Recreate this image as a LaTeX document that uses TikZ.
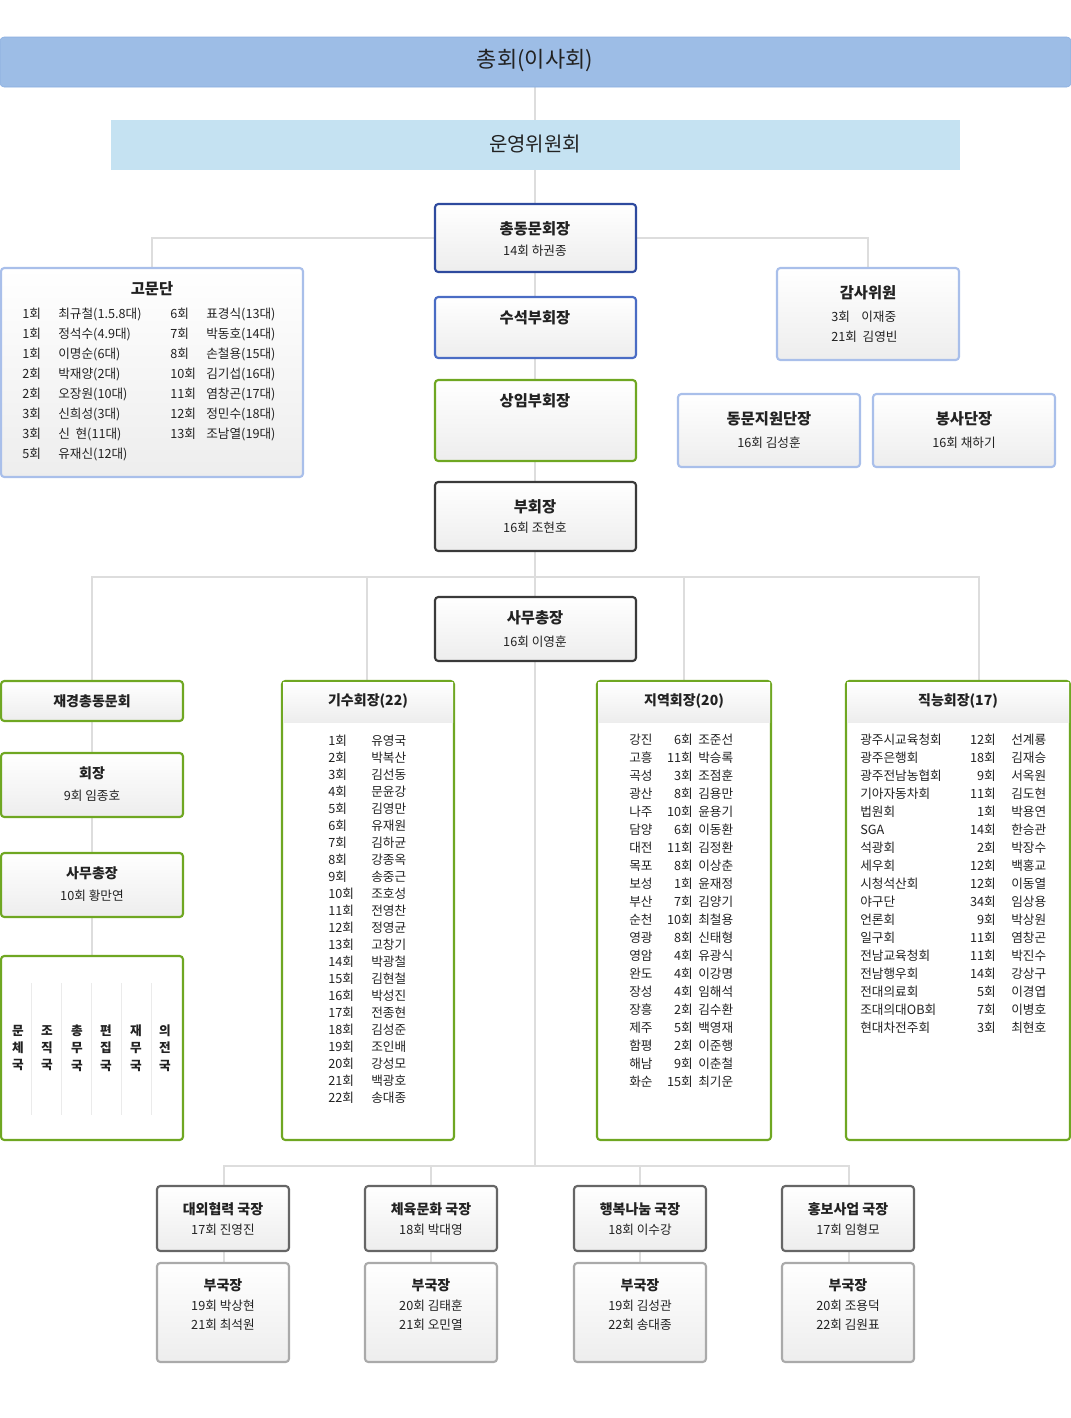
\documentclass[tikz,border=0pt]{standalone}
\usepackage{fontspec}
\setmainfont{Noto Sans CJK KR}
\usetikzlibrary{fit}
\definecolor{lnc}{HTML}{DDDDDD}
\definecolor{grn}{HTML}{6FA722}
\definecolor{dk}{HTML}{3A3A3A}
\definecolor{nb}{HTML}{2E4A9E}
\definecolor{mb}{HTML}{4A6CC4}
\definecolor{lb}{HTML}{A9BFEA}
\definecolor{lg}{HTML}{AAAAAA}
\definecolor{topf}{HTML}{9DBDE6}
\definecolor{topd}{HTML}{8AAEE0}
\definecolor{secf}{HTML}{C5E2F2}
\definecolor{txt}{HTML}{222222}
\tikzset{
 x=0.75pt,y=-0.75pt,
 bx/.style={inner sep=0pt,rounded corners=2.5pt,line width=1.6pt,top color=white,bottom color=black!7},
 bdk/.style={bx,draw=dk},
 bnb/.style={bx,draw=nb},
 bmb/.style={bx,draw=mb},
 blb/.style={bx,draw=lb},
 bgr/.style={bx,draw=grn},
 blg/.style={bx,draw=lg},
 ttl/.style={font=\fontsize{11.5}{13}\selectfont\bfseries,text=txt},
 sub/.style={font=\fontsize{9.5}{11}\selectfont,text=txt},
 li/.style={font=\fontsize{9.5}{11}\selectfont,text=txt,anchor=west,inner sep=0pt},
 ri/.style={font=\fontsize{9.5}{11}\selectfont,text=txt,anchor=east,inner sep=0pt},
 ln/.style={draw=lnc,line width=0.8pt},
}
\begin{document}
\begin{tikzpicture}
\useasboundingbox (0,0) rectangle (1071,1418);
% connectors
\draw[ln] (535,87) -- (535,1166);
\draw[ln] (152,268) -- (152,238) -- (868,238) -- (868,268);
\draw[ln] (92,681) -- (92,577) -- (979,577) -- (979,681);
\draw[ln] (367,577) -- (367,681);
\draw[ln] (684,577) -- (684,681);
\draw[ln] (92,721) -- (92,956);
\draw[ln] (224,1186) -- (224,1166) -- (849,1166) -- (849,1186);
\draw[ln] (431,1166) -- (431,1186);
\draw[ln] (640,1166) -- (640,1186);
\foreach \xx in {224,431,640,849}{\draw[ln] (\xx,1251) -- (\xx,1263);}
% top
\node[fill=topf,draw=topd,rounded corners=3pt,inner sep=0pt,fit={(0,37)(1071,87)}] (gen) {};
\node[font=\fontsize{16.5}{18}\selectfont,text=txt] (gent) at (535,61) {총회(이사회)};
\node[fill=secf,inner sep=0pt,fit={(111,120)(960,170)}] (op) {};
\node[font=\fontsize{15}{16}\selectfont,text=txt] (opt) at (535,144) {운영위원회};
% center column
\node[bnb,fit={(435,204)(636,272)}] (pres) {};
\node[ttl] (prest) at (535,229) {총동문회장};
\node[sub] (press) at (535,251) {14회 하권종};
\node[bmb,fit={(435,297)(636,358)}] (svp) {};
\node[ttl] (svpt) at (535,318) {수석부회장};
\node[bgr,fit={(435,380)(636,461)}] (evp) {};
\node[ttl] (evpt) at (535,401) {상임부회장};
\node[bdk,fit={(435,482)(636,551)}] (vp) {};
\node[ttl] (vpt) at (535,507) {부회장};
\node[sub] (vps) at (535,528) {16회 조현호};
\node[bdk,fit={(435,597)(636,661)}] (sg) {};
\node[ttl] (sgt) at (535,618) {사무총장};
\node[sub] (sgs) at (535,642) {16회 이영훈};
% advisors
\node[blb,fit={(1,268)(303,477)}] (adv) {};
\node[ttl] (advt) at (152,289) {고문단};
\foreach \i/\ca/\cb in {0/1회/최규철(1.5.8대),1/1회/정석수(4.9대),2/1회/이명순(6대),3/2회/박재양(2대),4/2회/오장원(10대),5/3회/신희성(3대),6/3회/신\ \ 현(11대),7/5회/유재신(12대)}{
 \node[li] (ga\i) at (22,314+20*\i) {\ca};
 \node[li] (gb\i) at (58,314+20*\i) {\cb};}
\foreach \i/\ca/\cb in {0/6회/표경식(13대),1/7회/박동호(14대),2/8회/손철용(15대),3/10회/김기섭(16대),4/11회/염창곤(17대),5/12회/정민수(18대),6/13회/조남열(19대)}{
 \node[li] (gc\i) at (170,314+20*\i) {\ca};
 \node[li] (gd\i) at (206,314+20*\i) {\cb};}
% audit
\node[blb,fit={(777,268)(959,360)}] (aud) {};
\node[ttl] (audt) at (868,293) {감사위원};
\node[li] (aud1) at (831,317) {3회\ \ \ \ 이재중};
\node[li] (aud2) at (831,337) {21회\ \ 김영빈};
\node[blb,fit={(678,394)(860,467)}] (sup) {};
\node[ttl] (supt) at (769,419) {동문지원단장};
\node[sub] (sups) at (769,443) {16회 김성훈};
\node[blb,fit={(873,394)(1055,467)}] (vol) {};
\node[ttl] (volt) at (964,419) {봉사단장};
\node[sub] (vols) at (964,443) {16회 채하기};
% left column
\node[bgr,fit={(1,681)(183,721)}] (jk) {};
\node[ttl,font=\fontsize{10.5}{12}\selectfont\bfseries] (jkt) at (92,701) {재경총동문회};
\node[bgr,fit={(1,753)(183,817)}] (jkp) {};
\node[ttl,font=\fontsize{10.5}{12}\selectfont\bfseries] (jkpt) at (92,773) {회장};
\node[sub] (jkps) at (92,796) {9회 임종호};
\node[bgr,fit={(1,853)(183,917)}] (jks) {};
\node[ttl,font=\fontsize{10.5}{12}\selectfont\bfseries] (jkst) at (92,873) {사무총장};
\node[sub] (jkss) at (92,896) {10회 황만연};
\node[bgr,top color=white,bottom color=white,fit={(1,956)(183,1140)}] (dep) {};
\foreach \xx in {31,61,91,121,151}{\draw[draw=black!8,line width=0.6pt] (\xx,983) -- (\xx,1115);}
\foreach \i/\ca/\cb/\cc/\xx in {1/문/체/국/18,2/조/직/국/47,3/총/무/국/77,4/편/집/국/106,5/재/무/국/136,6/의/전/국/165}{
 \node[sub,font=\fontsize{9.5}{11}\selectfont\bfseries,align=center] (dp\i) at (\xx,1048) {\ca\\[2pt]\cb\\[2pt]\cc};}
% list boxes
\foreach \nm/\xa/\xb/\ttx in {ks/282/454/기수회장(22),jy/597/771/지역회장(20),jn/846/1070/직능회장(17)}{
 \node[bgr,top color=white,bottom color=white,fit={(\xa,681)(\xb,1140)}] (\nm) {};
 \fill[top color=white,bottom color=black!7] (\xa+1,682) rectangle (\xb-1,722);
 \node[ttl,font=\fontsize{10.5}{12}\selectfont\bfseries] (\nm t) at ({(\xa+\xb)/2},701) {\ttx};}
\foreach \i/\ca in {1/유영국,2/박복산,3/김선동,4/문윤강,5/김영만,6/유재원,7/김하균,8/강종옥,9/송중근,10/조호성,11/전영찬,12/정영균,13/고창기,14/박광철,15/김현철,16/박성진,17/전종현,18/김성준,19/조인배,20/강성모,21/백광호,22/송대종}{
 \node[li] (kn\i) at (328,741+17*\i-17) {{\i}회};
 \node[li] (km\i) at (371,741+17*\i-17) {\ca};}
\foreach \i/\cr/\cn/\cp in {0/강진/6/조준선,1/고흥/11/박승록,2/곡성/3/조점훈,3/광산/8/김용만,4/나주/10/윤용기,5/담양/6/이동환,6/대전/11/김정환,7/목포/8/이상춘,8/보성/1/윤재정,9/부산/7/김양기,10/순천/10/최철용,11/영광/8/신태형,12/영암/4/유광식,13/완도/4/이강명,14/장성/4/임해석,15/장흥/2/김수환,16/제주/5/백영재,17/함평/2/이준행,18/해남/9/이춘철,19/화순/15/최기운}{
 \node[li] (jr\i) at (629,740+18*\i) {\cr};
 \node[ri] (jc\i) at (693,740+18*\i) {{\cn}회};
 \node[li] (jp\i) at (698,740+18*\i) {\cp};}
\foreach \i/\co/\cn/\cp in {0/광주시교육청회/12/선계룡,1/광주은행회/18/김재승,2/광주전남농협회/9/서옥원,3/기아자동차회/11/김도현,4/법원회/1/박용연,5/SGA/14/한승관,6/석광회/2/박장수,7/세우회/12/백홍교,8/시청석산회/12/이동열,9/야구단/34/임상용,10/언론회/9/박상원,11/일구회/11/염창곤,12/전남교육청회/11/박진수,13/전남행우회/14/강상구,14/전대의료회/5/이경엽,15/조대의대OB회/7/이병호,16/현대차전주회/3/최현호}{
 \node[li] (no\i) at (860,740+18*\i) {\co};
 \node[ri] (nc\i) at (996,740+18*\i) {{\cn}회};
 \node[li] (np\i) at (1011,740+18*\i) {\cp};}
% bottom
\foreach \k/\xa/\ct/\cs/\pa/\pb in {1/157/대외협력 국장/17회 진영진/19회 박상현/21회 최석원,2/365/체육문화 국장/18회 박대영/20회 김태훈/21회 오민열,3/574/행복나눔 국장/18회 이수강/19회 김성관/22회 송대종,4/782/홍보사업 국장/17회 임형모/20회 조용덕/22회 김원표}{
 \node[bdk,draw=black!60,fit={(\xa,1186)(\xa+132,1251)}] (gj\k) {};
 \node[ttl,font=\fontsize{10.5}{12}\selectfont\bfseries] (gjt\k) at (\xa+66,1209) {\ct};
 \node[sub] (gjs\k) at (\xa+66,1230) {\cs};
 \node[blg,fit={(\xa,1263)(\xa+132,1362)}] (bj\k) {};
 \node[ttl,font=\fontsize{10.5}{12}\selectfont\bfseries] (bjt\k) at (\xa+66,1285) {부국장};
 \node[sub] (bja\k) at (\xa+66,1306) {\pa};
 \node[sub] (bjb\k) at (\xa+66,1325) {\pb};}
\end{tikzpicture}
\end{document}
